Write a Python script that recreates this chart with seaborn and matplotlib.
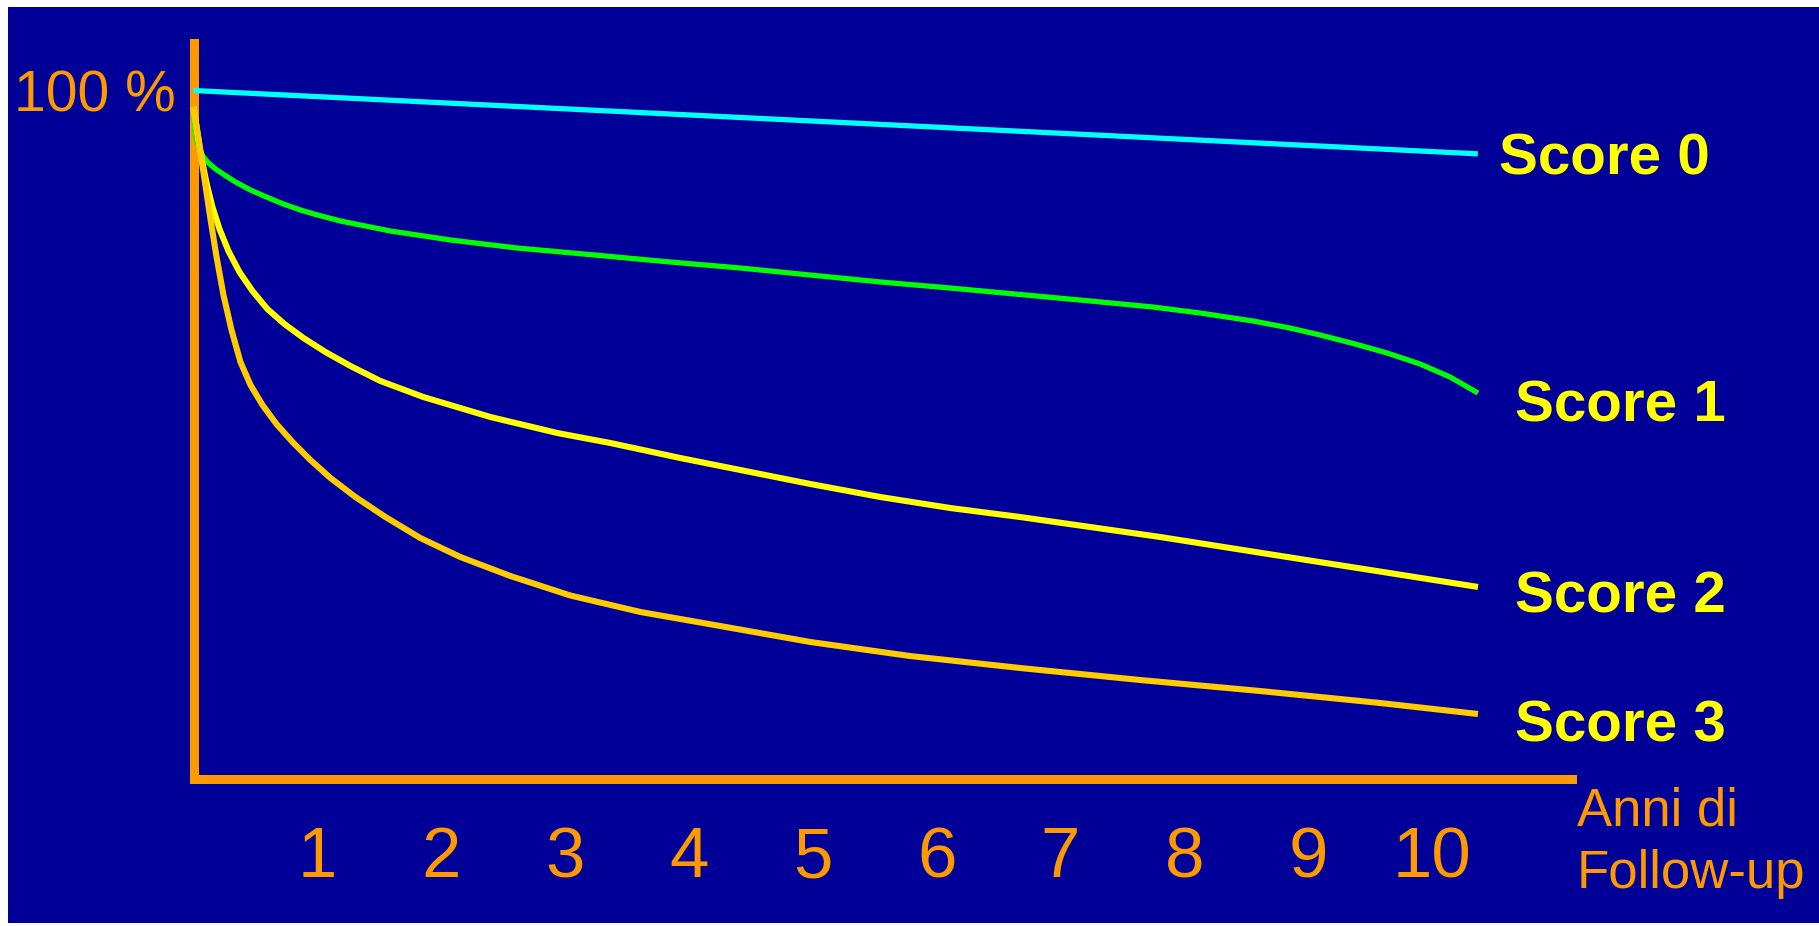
import matplotlib
matplotlib.use("Agg")
import matplotlib.pyplot as plt
from matplotlib.patches import Rectangle
import seaborn as sns

# Survival curves by score: years of follow-up vs. percentage still event-free
years_score0 = [0.0, 10.37]
surv_score0 = [100.0, 90.8]

years_score1 = [0.0, 0.008, 0.024, 0.048, 0.081, 0.121, 0.178, 0.250, 0.339, 0.460,
                0.589, 0.726, 0.864, 1.001, 1.186, 1.388, 1.590, 1.808, 2.074, 2.341,
                2.615, 2.881, 3.285, 3.850, 4.415, 4.980, 5.545, 6.110, 6.675, 7.240,
                7.748, 8.128, 8.555, 8.854, 9.096, 9.379, 9.637, 9.903, 10.145, 10.371]
surv_score1 = [97.60, 94.99, 92.81, 91.36, 90.34, 89.47, 88.60, 87.73, 86.71, 85.55,
               84.53, 83.51, 82.64, 81.92, 81.05, 80.32, 79.59, 79.01, 78.29, 77.71,
               77.12, 76.69, 76.03, 75.09, 74.22, 73.20, 72.19, 71.31, 70.37, 69.43,
               68.55, 67.68, 66.52, 65.50, 64.49, 63.18, 61.87, 60.28, 58.39, 56.06]

years_score2 = [0.0, 0.032, 0.065, 0.105, 0.153, 0.210, 0.282, 0.371, 0.476, 0.597,
                0.734, 0.888, 1.065, 1.267, 1.509, 1.856, 2.397, 2.938, 3.366, 3.931,
                4.415, 4.980, 5.545, 6.110, 6.675, 7.240, 7.805, 8.370, 8.935, 9.500,
                10.065, 10.371]
surv_score2 = [97.60, 93.83, 90.20, 86.56, 83.08, 79.88, 76.69, 73.64, 70.88, 68.26,
               66.09, 64.05, 62.02, 59.99, 57.81, 55.48, 52.58, 50.25, 48.80, 46.62,
               44.88, 42.85, 40.96, 39.36, 38.05, 36.60, 35.15, 33.55, 31.95, 30.36,
               28.76, 27.89]

years_score3 = [0.0, 0.032, 0.056, 0.097, 0.137, 0.186, 0.242, 0.307, 0.379, 0.460,
                0.557, 0.670, 0.799, 0.944, 1.106, 1.307, 1.550, 1.832, 2.155, 2.559,
                3.043, 3.608, 4.253, 4.980, 5.787, 6.675, 7.643, 8.612, 9.580, 10.371]
surv_score3 = [97.60, 93.97, 91.07, 86.13, 81.34, 75.82, 70.30, 65.21, 60.57, 57.23,
               54.32, 51.56, 48.95, 46.33, 43.72, 40.96, 38.05, 35.00, 32.24, 29.48,
               26.65, 24.26, 22.22, 19.90, 17.86, 16.12, 14.38, 12.78, 11.04, 9.44]

series_labels = ["Score 0", "Score 1", "Score 2", "Score 3"]
year_ticks = [1, 2, 3, 4, 5, 6, 7, 8, 9, 10]
y_ticks = [100]
y_tick_labels = ["100 %"]
x_title_lines = ["Anni di", "Follow-up"]

sns.set_theme(style="white")
plt.rcParams["font.family"] = ["Liberation Sans", "DejaVu Sans"]

NAVY = "#000099"
ORANGE = "#FF9900"
CYAN = "#00FFFF"
GREEN = "#00FF00"
YELLOW = "#FFFF00"
GOLD = "#FFCC00"

W, H = 1819, 926
fig = plt.figure(figsize=(W / 100, H / 100), dpi=100, facecolor="white")
fig.patches.append(Rectangle((8 / W, 3 / H), 1 - 8 / W, 916 / H,
                             transform=fig.transFigure, facecolor=NAVY,
                             edgecolor="none", zorder=-10))

ax = fig.add_axes([193.5 / W, 147 / H, (1572 - 193.5) / W, (779 - 43) / H])
ax.set_zorder(2)
ax.patch.set_alpha(0)

series = [
    (years_score1, surv_score1, GREEN, 3.8),
    (years_score2, surv_score2, YELLOW, 4.4),
    (years_score3, surv_score3, GOLD, 4.4),
    (years_score0, surv_score0, CYAN, 3.8),
]
for xs, ys, col, lw in series:
    sns.lineplot(x=xs, y=ys, ax=ax, color=col, linewidth=lw, estimator=None,
                 sort=False, zorder=4, clip_on=False, solid_capstyle="butt",
                 solid_joinstyle="round")

# End-of-curve labels (offsets in pixels from the last point)
label_info = [
    (years_score0, surv_score0, (21, -21)),
    (years_score1, surv_score1, (37, -28)),
    (years_score2, surv_score2, (37, -26)),
    (years_score3, surv_score3, (37, -27)),
]
for name, (xs, ys, off) in zip(series_labels, label_info):
    ax.annotate(name, xy=(xs[-1], ys[-1]), xytext=off, textcoords="offset pixels",
                fontsize=42, fontweight="bold", color=YELLOW,
                ha="left", va="baseline", annotation_clip=False)

ax.set_xlim(0, 11.13)
ax.set_ylim(0, 106.9)

for side in ["top", "right"]:
    ax.spines[side].set_visible(False)
for side in ["left", "bottom"]:
    ax.spines[side].set_color(ORANGE)
    ax.spines[side].set_linewidth(6.5)
    ax.spines[side].set_zorder(3)

ax.set_xticks(year_ticks)
ax.set_xticklabels([str(t) for t in year_ticks])
ax.set_yticks(y_ticks)
ax.set_yticklabels(y_tick_labels)
ax.tick_params(axis="x", length=0, pad=34, labelsize=51, labelcolor=ORANGE)
ax.tick_params(axis="y", length=0, pad=13, labelsize=41, labelcolor=ORANGE)
ax.grid(False)
ax.set_xlabel("")
ax.set_ylabel("")

fig.text(1577 / W, 1 - 825 / H, x_title_lines[0], fontsize=38, color=ORANGE,
         ha="left", va="baseline")
fig.text(1577 / W, 1 - 888 / H, x_title_lines[1], fontsize=38, color=ORANGE,
         ha="left", va="baseline")

fig.savefig("out.png", dpi=100, facecolor="white")
